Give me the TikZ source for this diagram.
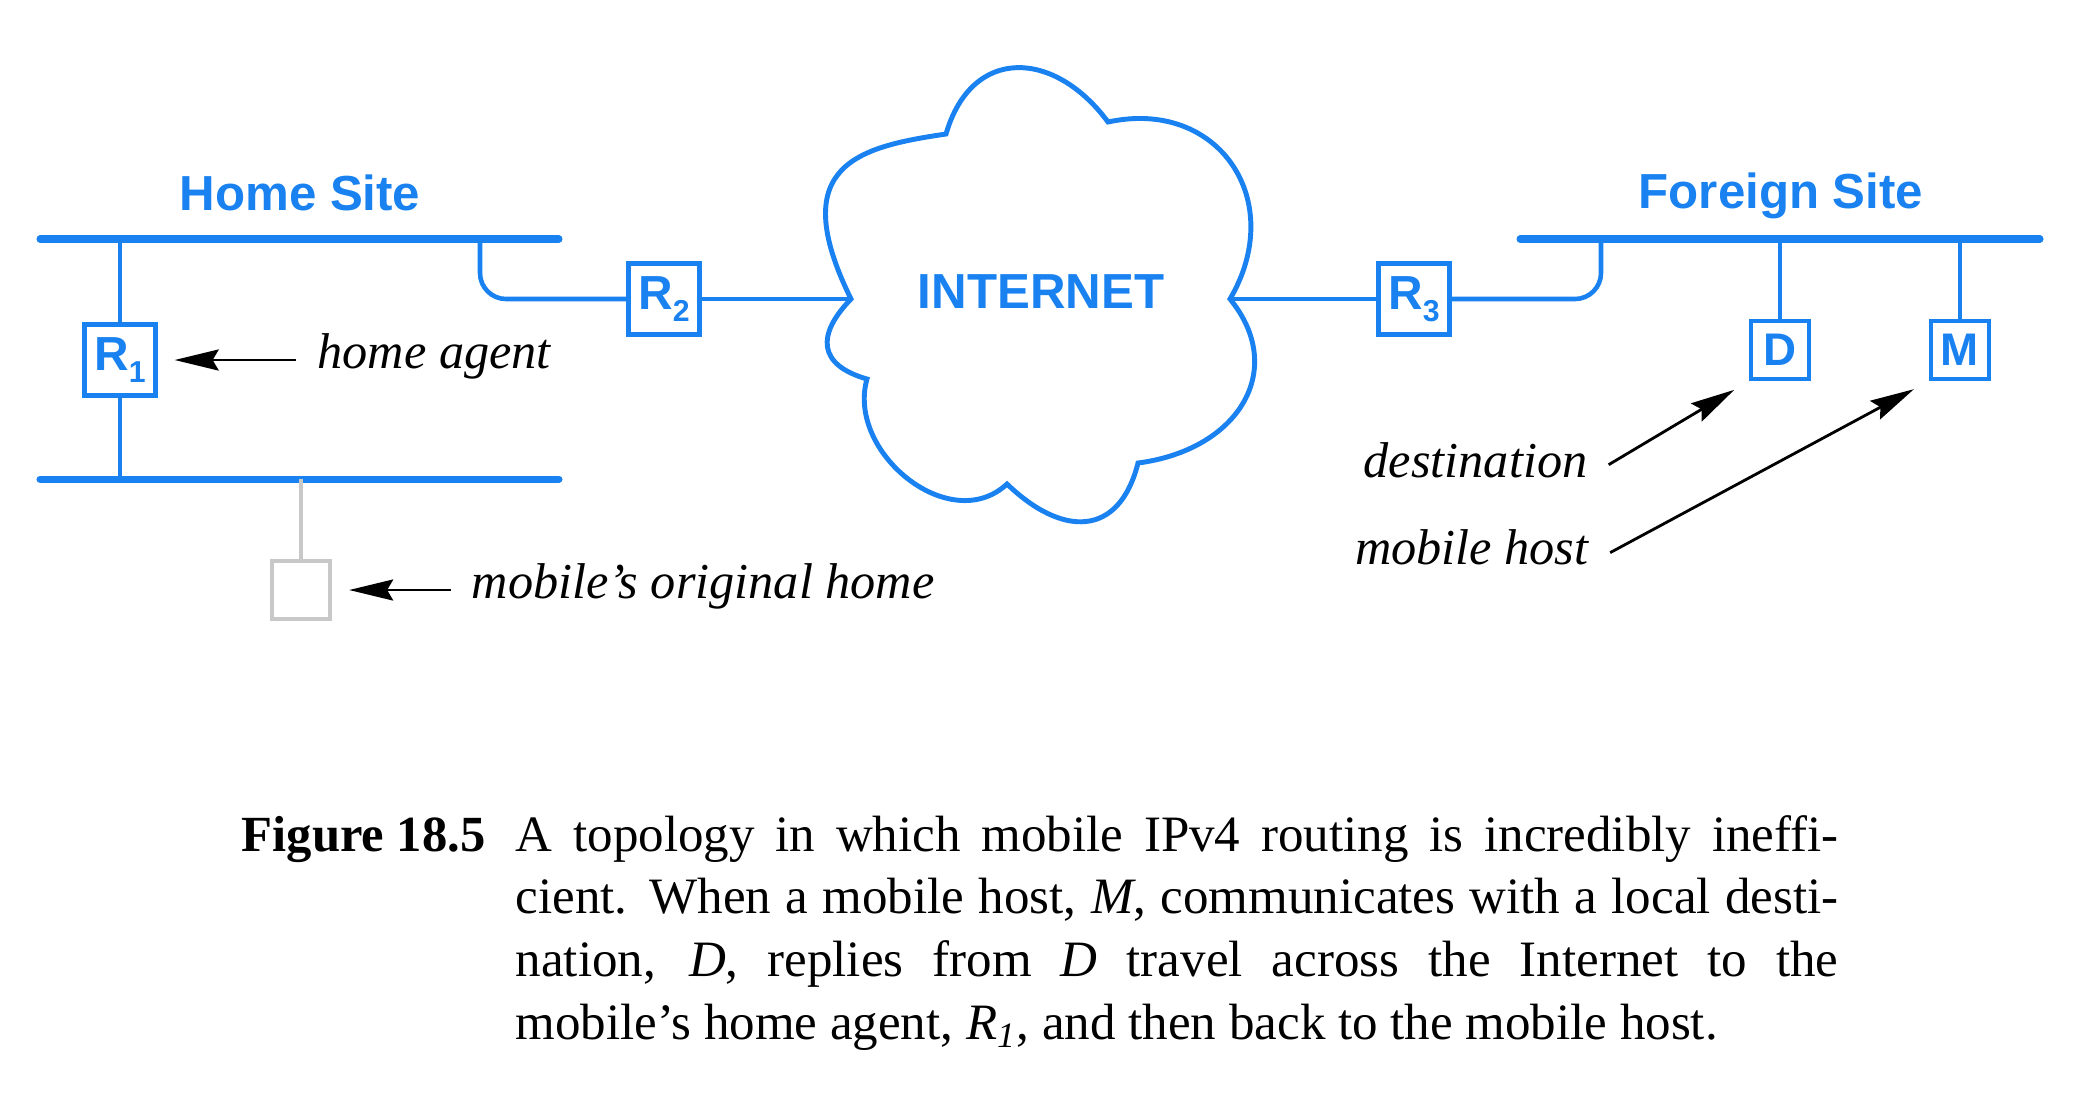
\documentclass[tikz,border=0pt]{standalone}
\usepackage{fontspec}
\setmainfont{Liberation Serif}
\setsansfont{Liberation Sans}
\usetikzlibrary{arrows.meta}
\definecolor{netblue}{RGB}{25,130,240}
\definecolor{oldgray}{RGB}{200,200,200}
\newcommand{\rname}[1]{R\raisebox{-3.4pt}{\fontsize{8.6pt}{9pt}\selectfont #1}}

\begin{document}
\begin{tikzpicture}[x=0.01cm, y=-0.01cm,
	bus/.style={netblue, line width=2pt, line cap=round},
	link/.style={netblue, line width=1.3pt},
	router/.style={draw=netblue, line width=1.2pt, minimum size=0.71cm, inner sep=0pt, text=netblue, font=\sffamily\bfseries\fontsize{13.6pt}{14pt}\selectfont},
	host/.style={router, minimum size=0.58cm, font=\sffamily\bfseries\fontsize{13pt}{14pt}\selectfont},
	site/.style={text=netblue, inner sep=0pt, font=\sffamily\bfseries\fontsize{14pt}{15pt}\selectfont},
	note/.style={inner sep=0pt, font=\itshape\fontsize{14.3pt}{15pt}\selectfont},
	pointer/.style={-{Stealth[length=0.44cm, width=0.21cm, inset=0.06cm]}, line width=0.8pt}]
		\useasboundingbox (0,0) rectangle (2079,1096);
		\draw[bus] (40,239) -- (559,239);
		\draw[bus] (40,479) -- (559,479);
		\draw[bus] (1520,239) -- (2040,239);
		\node[site, anchor=base] (home) at (300,210) {Home Site};
		\node[site, anchor=base] (foreign) at (1781,208) {Foreign Site};
		\node[router] (R1) at (120,360) {\rname{1}};
		\node[router] (R2) at (664,299) {\rname{2}};
		\node[router] (R3) at (1414,299) {\rname{3}};
		\node[host] (D) at (1780,350) {D};
		\node[host] (M) at (1960,350) {M};
		\node[draw=oldgray, line width=1.2pt, minimum size=0.58cm, inner sep=0pt] (orig) at (301,590) {};
		\draw[netblue, line width=1.4pt] (851,299) coordinate (cl)
			.. controls (785,165) and (858,147) .. (946,134)
			.. controls (972,45) and (1055,50) .. (1108,122)
			.. controls (1218,98) and (1288,200) .. (1230,299) coordinate (cr)
			.. controls (1288,370) and (1238,450) .. (1138,463)
			.. controls (1119,538) and (1062,537) .. (1007,484)
			.. controls (950,537) and (846,452) .. (867,379)
			.. controls (818,365) and (816,335) .. (851,299) -- cycle;
		\node[site, anchor=base] (inet) at (1041,308) {INTERNET};
		\coordinate (t1) at (120,239);
		\coordinate (b1) at (120,479);
		\coordinate (t2) at (480,239);
		\coordinate (b2) at (301,479);
		\coordinate (t3) at (1601,239);
		\coordinate (tD) at (1780,239);
		\coordinate (tM) at (1960,239);
		\draw[link] (t1) -- (R1);
		\draw[link] (R1) -- (b1);
		\draw[link, rounded corners=0.26cm] (t2) |- (R2);
		\draw[link] (R2) -- (cl);
		\draw[link] (cr) -- (R3);
		\draw[link, rounded corners=0.26cm] (t3) |- (R3);
		\draw[link] (tD) -- (D);
		\draw[link] (tM) -- (M);
		\draw[link, oldgray] (b2) -- (orig);
		\node[note, anchor=base west] (agent) at (317,368) {home agent};
		\node[note, anchor=base west] (origlbl) at (471,598) {mobile's original home};
		\node[note, anchor=base east] (dest) at (1588,477) {destination};
		\node[note, anchor=base east] (mhost) at (1589,564) {mobile host};
		\draw[pointer, shorten <=0.21cm, shorten >=0.17cm] (R1.east -| agent.west) -- (R1.east);
		\draw[pointer, shorten <=0.2cm, shorten >=0.17cm] (orig.east -| origlbl.west) -- (orig.east);
		\draw[pointer, shorten <=0.24cm, shorten >=0.17cm] (dest.base east) -- (D.south west);
		\draw[pointer, shorten <=0.24cm, shorten >=0.17cm] (mhost.base east) -- (M.south west);
		\node[anchor=base west, inner sep=0pt, font=\bfseries\fontsize{14.4pt}{17.9pt}\selectfont] (fig) at (241,851) {Figure 18.5};
		\node[anchor=base west, inner sep=0pt, text width=13.22cm, align=justify, font=\fontsize{14.5pt}{17.9pt}\selectfont] (caption) at (515,851) {A topology in which mobile IPv4 routing is incredibly ineffi-\linebreak cient.  When a mobile host, \textit{M}, communicates with a local desti-\linebreak nation, \textit{D}, replies from \textit{D} travel across the Internet to the\linebreak mobile's home agent, \textit{R\textsubscript{1}}, and then back to the mobile host.};
	\end{tikzpicture}
\end{document}
